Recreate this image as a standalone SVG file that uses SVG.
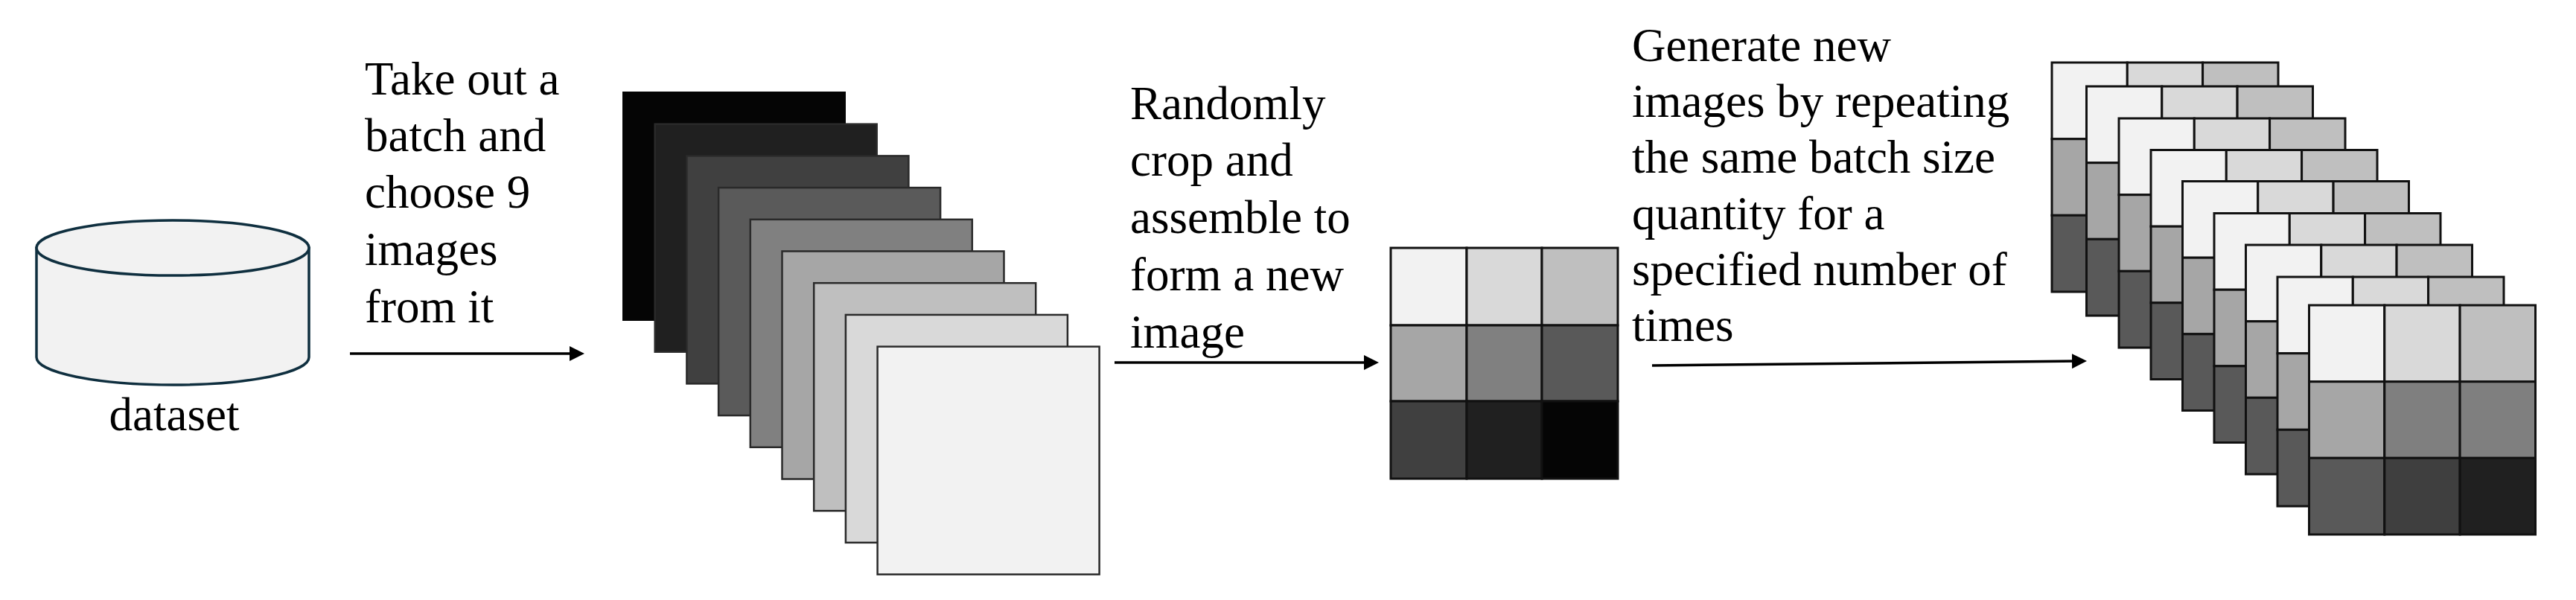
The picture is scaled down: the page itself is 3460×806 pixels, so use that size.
<svg xmlns="http://www.w3.org/2000/svg" xmlns:xlink="http://www.w3.org/1999/xlink" width="3460" height="806" viewBox="0 0 3460 806">
<style>
  .lbl { font-family: "Liberation Serif", "Times New Roman", serif; font-size: 63px; fill: #000; }
  .cyl { fill: #f2f2f2; stroke: #0f2f3f; stroke-width: 3.5; }
  .sq { stroke: #2a2a2a; stroke-width: 2.5; }
  .cell { stroke: #111; stroke-width: 3; }
  .conn { fill: none; stroke: #000; stroke-width: 3.5; }
</style>
<defs>
  <marker id="arrow" markerUnits="userSpaceOnUse" markerWidth="20" markerHeight="20" refX="10" refY="10" orient="auto" viewBox="0 0 20 20">
    <path d="M0,0 L20,10 L0,20 z" fill="#000"/>
  </marker>
  <g id="tile">
    <rect class="cell" x="0" y="0" width="101.3" height="102.7" fill="#f2f2f2"/>
    <rect class="cell" x="101.3" y="0" width="101.3" height="102.7" fill="#d9d9d9"/>
    <rect class="cell" x="202.6" y="0" width="101.4" height="102.7" fill="#bfbfbf"/>
    <rect class="cell" x="0" y="102.7" width="101.3" height="102.6" fill="#a6a6a6"/>
    <rect class="cell" x="101.3" y="102.7" width="101.3" height="102.6" fill="#7f7f7f"/>
    <rect class="cell" x="202.6" y="102.7" width="101.4" height="102.6" fill="#7f7f7f"/>
    <rect class="cell" x="0" y="205.3" width="101.3" height="102.7" fill="#595959"/>
    <rect class="cell" x="101.3" y="205.3" width="101.3" height="102.7" fill="#3f3f3f"/>
    <rect class="cell" x="202.6" y="205.3" width="101.4" height="102.7" fill="#202020"/>
  </g>
</defs>
<rect x="0" y="0" width="3460" height="806" fill="#ffffff"/>

<g id="dataset">
  <path class="cyl" d="M49,333 L49,480 A183,37 0 0 0 415,480 L415,333 Z"/>
  <ellipse class="cyl" cx="232" cy="333" rx="183" ry="37"/>
  <text class="lbl" x="234" y="578" text-anchor="middle">dataset</text>
</g>

<g id="label-batch">
  <text class="lbl" x="490" y="127">Take out a</text>
  <text class="lbl" x="490" y="203">batch and</text>
  <text class="lbl" x="490" y="279">choose 9</text>
  <text class="lbl" x="490" y="356">images</text>
  <text class="lbl" x="490" y="433">from it</text>
</g>

<g id="batch-stack">
  <rect x="837" y="124" width="298" height="306" fill="#050505" stroke="#050505" stroke-width="2"/>
  <rect class="sq" x="879.7" y="166.7" width="298" height="306" fill="#202020"/>
  <rect class="sq" x="922.4" y="209.4" width="298" height="306" fill="#404040"/>
  <rect class="sq" x="965.1" y="252.1" width="298" height="306" fill="#5a5a5a"/>
  <rect class="sq" x="1007.8" y="294.8" width="298" height="306" fill="#808080"/>
  <rect class="sq" x="1050.5" y="337.5" width="298" height="306" fill="#a6a6a6"/>
  <rect class="sq" x="1093.2" y="380.2" width="298" height="306" fill="#bfbfbf"/>
  <rect class="sq" x="1135.9" y="422.9" width="298" height="306" fill="#d9d9d9"/>
  <rect class="sq" x="1178.6" y="465.6" width="298" height="306" fill="#f2f2f2" stroke="#555"/>
</g>

<g id="label-crop">
  <text class="lbl" x="1518" y="160">Randomly</text>
  <text class="lbl" x="1518" y="236">crop and</text>
  <text class="lbl" x="1518" y="313">assemble to</text>
  <text class="lbl" x="1518" y="390">form a new</text>
  <text class="lbl" x="1518" y="467">image</text>
</g>

<g id="mosaic">
  <rect class="cell" x="1868" y="333" width="102" height="104" fill="#f2f2f2"/>
  <rect class="cell" x="1970" y="333" width="101" height="104" fill="#d9d9d9"/>
  <rect class="cell" x="2071" y="333" width="102" height="104" fill="#bfbfbf"/>
  <rect class="cell" x="1868" y="437" width="102" height="102" fill="#a6a6a6"/>
  <rect class="cell" x="1970" y="437" width="101" height="102" fill="#808080"/>
  <rect class="cell" x="2071" y="437" width="102" height="102" fill="#595959"/>
  <rect class="cell" x="1868" y="539" width="102" height="104" fill="#404040"/>
  <rect class="cell" x="1970" y="539" width="101" height="104" fill="#202020"/>
  <rect class="cell" x="2071" y="539" width="102" height="104" fill="#050505"/>
</g>

<g id="label-generate">
  <text class="lbl" x="2192" y="82">Generate new</text>
  <text class="lbl" x="2192" y="157">images by repeating</text>
  <text class="lbl" x="2192" y="232">the same batch size</text>
  <text class="lbl" x="2192" y="308">quantity for a</text>
  <text class="lbl" x="2192" y="383">specified number of</text>
  <text class="lbl" x="2192" y="458">times</text>
</g>

<g id="generated-stack">
  <use xlink:href="#tile" href="#tile" x="2756" y="84"/>
  <use xlink:href="#tile" href="#tile" x="2802.5" y="116"/>
  <use xlink:href="#tile" href="#tile" x="2846" y="159"/>
  <use xlink:href="#tile" href="#tile" x="2889" y="201.5"/>
  <use xlink:href="#tile" href="#tile" x="2931.5" y="243.5"/>
  <use xlink:href="#tile" href="#tile" x="2974" y="286.5"/>
  <use xlink:href="#tile" href="#tile" x="3016.5" y="329"/>
  <use xlink:href="#tile" href="#tile" x="3059" y="372"/>
  <use xlink:href="#tile" href="#tile" x="3101.5" y="410"/>
</g>

<g id="connectors">
  <path class="conn" d="M470,475 L775,475" marker-end="url(#arrow)"/>
  <path class="conn" d="M1497,487 L1842,487" marker-end="url(#arrow)"/>
  <path class="conn" d="M2219,491 L2793,485.1" marker-end="url(#arrow)"/>
</g>
</svg>
